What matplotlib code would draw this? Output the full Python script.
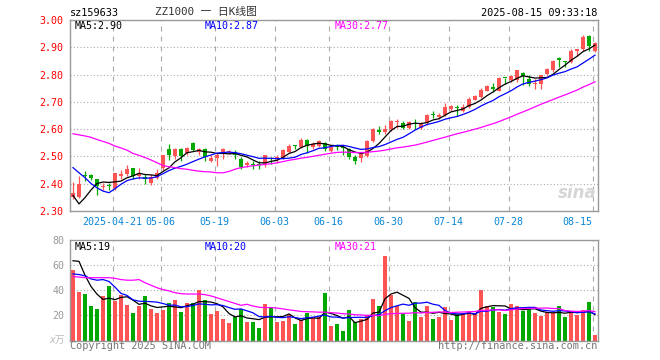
import numpy as np
import pandas as pd
import matplotlib
matplotlib.use('Agg')
import matplotlib.pyplot as plt

plt.rcParams['font.family'] = ['DejaVu Sans Mono', 'Noto Sans CJK SC']
plt.rcParams['lines.scale_dashes'] = False

# ---------------- data ----------------
first_date = '2025-04-10'
last_date = '2025-08-15'
holidays = ['2025-05-01', '2025-05-02', '2025-05-05', '2025-06-02']
tick_dates = ['2025-04-21', '2025-05-06', '2025-05-19', '2025-06-03', '2025-06-16',
              '2025-06-30', '2025-07-14', '2025-07-28', '2025-08-15']
tick_labels = ['2025-04-21', '05-06', '05-19', '06-03', '06-16',
               '06-30', '07-14', '07-28', '08-15']

opens = [2.352, 2.352, 2.432, 2.432, 2.416, 2.389, 2.395, 2.385, 2.427, 2.434,
         2.456, 2.428, 2.426, 2.404, 2.422, 2.456, 2.529, 2.501, 2.526, 2.514,
         2.548, 2.517, 2.526, 2.483, 2.495, 2.514, 2.516, 2.515, 2.492, 2.468,
         2.474, 2.473, 2.471, 2.495, 2.489, 2.493, 2.517, 2.541, 2.535, 2.562,
         2.534, 2.540, 2.550, 2.520, 2.537, 2.533, 2.526, 2.499, 2.493, 2.501,
         2.556, 2.596, 2.589, 2.599, 2.627, 2.621, 2.605, 2.622, 2.605, 2.621,
         2.655, 2.645, 2.651, 2.674, 2.680, 2.665, 2.680, 2.708, 2.717, 2.741,
         2.756, 2.741, 2.789, 2.780, 2.780, 2.806, 2.782, 2.764, 2.766, 2.802,
         2.815, 2.858, 2.849, 2.845, 2.888, 2.894, 2.943, 2.888]
highs = [2.407, 2.428, 2.446, 2.435, 2.418, 2.404, 2.404, 2.440, 2.449, 2.470,
         2.459, 2.456, 2.434, 2.434, 2.453, 2.504, 2.546, 2.532, 2.532, 2.535,
         2.553, 2.532, 2.532, 2.507, 2.514, 2.532, 2.523, 2.523, 2.499, 2.483,
         2.483, 2.483, 2.507, 2.499, 2.507, 2.526, 2.544, 2.541, 2.568, 2.565,
         2.553, 2.560, 2.553, 2.540, 2.544, 2.540, 2.532, 2.504, 2.514, 2.560,
         2.605, 2.611, 2.617, 2.633, 2.636, 2.629, 2.629, 2.638, 2.626, 2.654,
         2.666, 2.660, 2.696, 2.687, 2.687, 2.693, 2.717, 2.726, 2.750, 2.760,
         2.769, 2.790, 2.789, 2.799, 2.815, 2.811, 2.799, 2.784, 2.799, 2.823,
         2.855, 2.863, 2.851, 2.894, 2.894, 2.945, 2.946, 2.918]
lows = [2.343, 2.349, 2.410, 2.413, 2.357, 2.377, 2.377, 2.376, 2.418, 2.428,
        2.418, 2.418, 2.398, 2.394, 2.418, 2.449, 2.487, 2.489, 2.483, 2.507,
        2.520, 2.507, 2.483, 2.479, 2.465, 2.489, 2.510, 2.492, 2.453, 2.462,
        2.453, 2.455, 2.462, 2.471, 2.477, 2.489, 2.514, 2.526, 2.532, 2.514,
        2.528, 2.535, 2.520, 2.516, 2.523, 2.507, 2.489, 2.474, 2.479, 2.499,
        2.553, 2.581, 2.584, 2.593, 2.605, 2.599, 2.599, 2.599, 2.601, 2.617,
        2.642, 2.638, 2.648, 2.668, 2.647, 2.662, 2.677, 2.705, 2.713, 2.738,
        2.735, 2.738, 2.766, 2.772, 2.774, 2.762, 2.757, 2.747, 2.747, 2.799,
        2.811, 2.827, 2.827, 2.843, 2.869, 2.888, 2.888, 2.882]
closes = [2.365, 2.398, 2.428, 2.420, 2.392, 2.393, 2.391, 2.438, 2.434, 2.453,
          2.428, 2.438, 2.416, 2.426, 2.440, 2.504, 2.505, 2.526, 2.501, 2.532,
          2.523, 2.529, 2.499, 2.495, 2.507, 2.526, 2.520, 2.507, 2.461, 2.477,
          2.470, 2.469, 2.504, 2.489, 2.498, 2.523, 2.540, 2.539, 2.562, 2.540,
          2.546, 2.556, 2.526, 2.535, 2.534, 2.530, 2.498, 2.483, 2.510, 2.556,
          2.599, 2.589, 2.601, 2.629, 2.630, 2.605, 2.626, 2.619, 2.621, 2.650,
          2.652, 2.650, 2.681, 2.683, 2.676, 2.680, 2.711, 2.721, 2.745, 2.757,
          2.747, 2.788, 2.787, 2.794, 2.815, 2.794, 2.766, 2.767, 2.799, 2.821,
          2.851, 2.855, 2.846, 2.888, 2.894, 2.937, 2.906, 2.916]
volumes = [56.4, 38.4, 37.3, 27.2, 25.3, 35.2, 43.7, 31.2, 36.0, 28.0,
           21.6, 27.2, 35.7, 25.3, 21.6, 24.0, 30.1, 32.5, 22.4, 29.6,
           30.1, 40.0, 32.5, 20.8, 23.2, 17.3, 13.6, 18.9, 25.3, 14.4,
           14.4, 10.1, 28.8, 26.7, 14.4, 15.2, 20.8, 12.8, 16.5, 21.6,
           18.4, 18.9, 37.6, 11.2, 13.3, 7.7, 24.5, 14.4, 17.3, 20.0,
           33.3, 27.7, 67.6, 36.5, 27.2, 21.1, 15.2, 30.9, 18.4, 27.2,
           16.8, 18.9, 26.4, 16.0, 21.1, 21.9, 23.2, 21.3, 40.5, 27.2,
           26.7, 22.4, 20.8, 28.8, 27.2, 23.2, 25.6, 21.6, 19.2, 21.9,
           21.9, 27.2, 18.4, 23.2, 20.0, 24.5, 30.9, 4.0]

# moving-average values before enough in-window history
ma5_head = [2.357, 2.326, 2.349, 2.377]
ma10_head = [2.459, 2.440, 2.422, 2.401, 2.385, 2.373, 2.367, 2.382, 2.398]
ma30_head = [2.583, 2.579, 2.575, 2.570, 2.562, 2.555, 2.548, 2.538, 2.531, 2.523,
             2.511, 2.504, 2.496, 2.487, 2.477, 2.467, 2.462, 2.459, 2.455, 2.453,
             2.449, 2.446, 2.444, 2.443, 2.440, 2.440, 2.445, 2.453, 2.459]
vma5_head = [63.5, 63.0, 52.0, 43.0]
vma10_head = [53.0, 52.5, 51.5, 49.0, 48.0, 48.5, 47.0, 42.5, 37.5]
vma30_head = [51.0, 50.5, 50.0, 50.0, 50.0, 50.0, 50.0, 49.5, 48.5, 48.0,
              48.0, 48.5, 46.0, 44.0, 42.0, 40.5, 39.5, 38.0, 37.3, 37.0,
              37.0, 37.0, 36.5, 35.5, 34.0, 32.5, 31.0, 29.5, 28.0]

price_ticks = [2.30, 2.40, 2.50, 2.60, 2.70, 2.80, 2.90, 3.00]
vol_ticks = [20, 40, 60, 80]

# ---------------- helpers ----------------
def moving_avg(vals, n, head):
    s = pd.Series(vals).rolling(n).mean().to_numpy()
    s[:n - 1] = head
    return s

dates = pd.bdate_range(first_date, last_date)
dates = dates[~dates.isin(pd.to_datetime(holidays))]
date_index = {d.strftime('%Y-%m-%d'): i for i, d in enumerate(dates)}
tick_pos = [date_index[d] - 0.4 for d in tick_dates]

o = np.array(opens); h = np.array(highs); l = np.array(lows); c = np.array(closes)
v = np.array(volumes)
x = np.arange(len(c))
up = c >= o
RED = '#ff5454'
GREEN = '#00a800'
cols = np.where(up, RED, GREEN)

ma5 = moving_avg(closes, 5, ma5_head)
ma10 = moving_avg(closes, 10, ma10_head)
ma30 = moving_avg(closes, 30, ma30_head)
vma5 = moving_avg(volumes, 5, vma5_head)
vma10 = moving_avg(volumes, 10, vma10_head)
vma30 = moving_avg(volumes, 30, vma30_head)

W, H = 660, 360
fig = plt.figure(figsize=(W / 100, H / 100), dpi=100)

def fx(px):
    return px / W

def fy(py):
    return 1 - py / H

L, R = 70, 598
ax1 = fig.add_axes([fx(L), fy(211), (R - L) / W, 191 / H])
ax2 = fig.add_axes([fx(L), fy(340.5), (R - L) / W, 100.5 / H])

GRID = '#aaaaaa'
for ax in (ax1, ax2):
    ax.set_xlim(-0.5, len(c) - 0.5)
    ax.set_xticks([])
    for s in ax.spines.values():
        s.set_color('#999999')
        s.set_linewidth(1.0)
    for tp in tick_pos:
        ax.axvline(tp, color=GRID, lw=0.8, dashes=(3.6, 3.6), zorder=0)

# price panel
ax1.set_ylim(price_ticks[0], price_ticks[-1])
for t in price_ticks[1:-1]:
    ax1.axhline(t, color=GRID, lw=0.8, dashes=(0.8, 1.6), zorder=0)
ax1.vlines(x, l, h, colors=cols, lw=0.9, zorder=2)
body = np.maximum(np.abs(c - o), 0.004)
ax1.bar(x, body, bottom=np.minimum(o, c), width=0.8, color=cols, lw=0, zorder=3)
ax1.plot(x, ma5, color='black', lw=0.9, zorder=4)
ax1.plot(x, ma10, color='#0000ff', lw=0.9, zorder=4)
ax1.plot(x, ma30, color='#ff00ff', lw=0.9, zorder=4)
ax1.set_yticks(price_ticks)
ax1.set_yticklabels(['%.2f' % t for t in price_ticks])
ax1.tick_params(axis='y', length=0, pad=5, labelcolor='#ff0000', labelsize=7.2)

for tp, lab in zip(tick_pos, tick_labels):
    ha = 'right' if lab == tick_labels[-1] else 'center'
    ax1.text(tp + (0.0 if ha == 'center' else -0.1), -0.058, lab,
             transform=ax1.get_xaxis_transform(), ha=ha, va='center',
             color='#0a86d6', fontsize=7.2)

ax1.text(596, 0, '')
fig.text(fx(597), fy(193), 'sina', ha='right', va='center', fontsize=12,
         fontstyle='italic', fontweight='bold', color='#d6d6d6',
         family='DejaVu Sans')

# volume panel
ax2.set_ylim(0, 80)
for t in vol_ticks[:-1]:
    ax2.axhline(t, color=GRID, lw=0.8, dashes=(0.8, 1.6), zorder=0)
ax2.bar(x, v, width=0.8, color=cols, lw=0, zorder=2)
ax2.plot(x, vma5, color='black', lw=0.9, zorder=4)
ax2.plot(x, vma10, color='#0000ff', lw=0.9, zorder=4)
ax2.plot(x, vma30, color='#ff00ff', lw=0.9, zorder=4)
ax2.set_yticks(vol_ticks)
ax2.set_yticklabels([str(t) for t in vol_ticks])
ax2.tick_params(axis='y', length=0, pad=4, labelcolor='#999999', labelsize=7.2)
fig.text(fx(65), fy(340), 'x万', ha='right', va='center', fontsize=7,
         color='#bbbbbb', fontstyle='italic')

# header
fig.text(fx(70), fy(13), 'sz159633', ha='left', va='center', fontsize=7.4, color='black')
fig.text(fx(206), fy(12.5), 'ZZ1000 一 日K线图', ha='center', va='center',
         fontsize=7.8, color='#333333')
fig.text(fx(597), fy(13), '2025-08-15 09:33:18', ha='right', va='center',
         fontsize=7.4, color='black')

# MA labels
def ma_labels(ypx, a, b, cc):
    fig.text(fx(75), fy(ypx), a, ha='left', va='center', fontsize=7.2, color='black')
    fig.text(fx(205), fy(ypx), b, ha='left', va='center', fontsize=7.2, color='#0000ff')
    fig.text(fx(335), fy(ypx), cc, ha='left', va='center', fontsize=7.2, color='#ff00ff')

ma_labels(26, 'MA5:2.90', 'MA10:2.87', 'MA30:2.77')
ma_labels(246.5, 'MA5:19', 'MA10:20', 'MA30:21')

# footer
fig.text(fx(70), fy(346), 'Copyright 2025 SINA.COM', ha='left', va='center',
         fontsize=7.4, color='#777777')
fig.text(fx(597), fy(346), 'http://finance.sina.com.cn', ha='right', va='center',
         fontsize=7.4, color='#777777')

fig.savefig('out.png', dpi=100)
